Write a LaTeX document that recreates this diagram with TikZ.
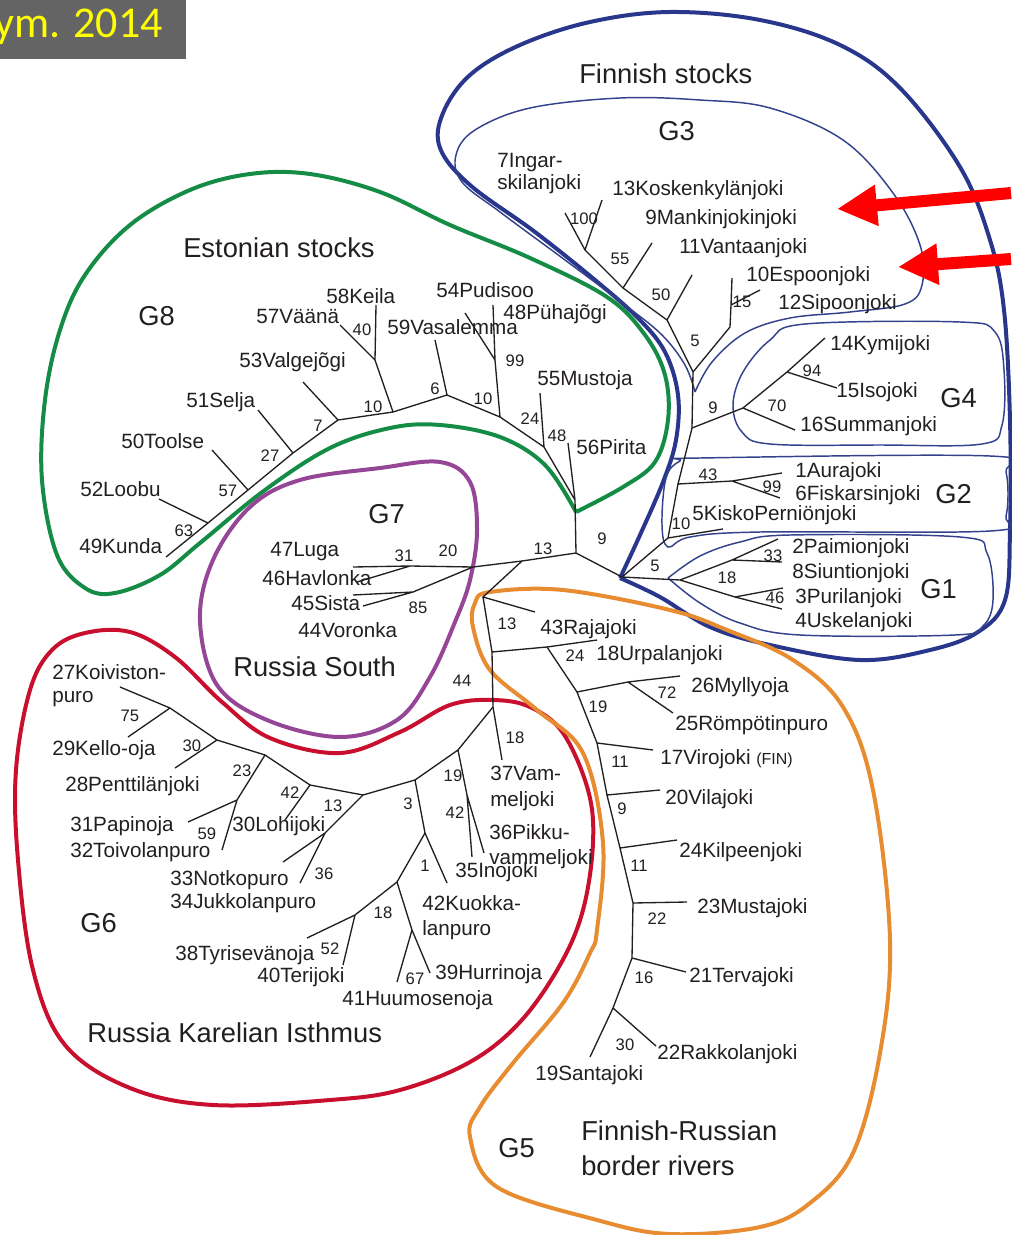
\documentclass[tikz,border=0pt]{standalone}
\usepackage{fontspec}
\setmainfont{Liberation Sans}
\newfontfamily\slidefont{Carlito}
\usetikzlibrary{arrows.meta}

\begin{document}
\begin{tikzpicture}[x=0.75pt,y=0.75pt,yscale=-1,xscale=1,
  branch/.style={color={rgb, 255:red, 35; green, 31; blue, 32}, line width=1},
  leaf/.style={anchor=base west, inner sep=0pt, text={rgb, 255:red, 35; green, 31; blue, 32}, font=\fontsize{15.5}{18}\selectfont},
  boot/.style={anchor=base, inner sep=0pt, text={rgb, 255:red, 35; green, 31; blue, 32}, font=\fontsize{12.5}{14}\selectfont},
  grp/.style={anchor=base west, inner sep=0pt, text={rgb, 255:red, 35; green, 31; blue, 32}, font=\fontsize{20.5}{24}\selectfont},
  rim/.style={line width=3},
  thinrim/.style={line width=1.1, color={rgb, 255:red, 52; green, 66; blue, 140}},
  pointer/.style={line width=9, color={rgb, 255:red, 255; green, 0; blue, 0}, -{Triangle[length=30pt, width=29pt]}}
]
\useasboundingbox (0,0) rectangle (1011,1235);

%Shape: Title box
\fill [color={rgb, 255:red, 100; green, 100; blue, 100}] (0,0) rectangle (186,59);
\node (yr) [anchor=base west, inner sep=0pt, text={rgb, 255:red, 255; green, 255; blue, 0}, font=\slidefont\fontsize{33}{36}\selectfont] at (-6,37) {ym. 2014};

%Shape: Group outlines
\draw [rim, color={rgb, 255:red, 20; green, 140; blue, 70}] plot [smooth, tension=0.6] coordinates {(576,512) (623,487) (655,462) (668,420) (665,375) (645,335) (607,297) (530,258) (450,225) (380,192) (310,174) (250,174) (190,190) (130,225) (85,275) (60,330) (45,400) (42,480) (57,555) (85,588) (115,593) (160,575) (200,543) (265,490) (330,448) (390,428) (440,425) (500,437) (545,465) (576,512)};
\draw [rim, color={rgb, 255:red, 40; green, 55; blue, 140}] plot [smooth, tension=0.6] coordinates {(620,578) (660,597) (710,627) (770,645) (860,660) (930,650) (978,632) (1005,600) (1010,530) (1010,420) (1004,310) (990,240) (960,167) (900,88) (840,45) (760,20) (670,12) (590,22) (520,45) (470,75) (443,113) (440,148) (470,185) (535,232) (595,280) (638,318) (665,352) (678,395) (676,440) (663,482) (640,535) (620,578)};
\draw [thinrim] plot [smooth, tension=0.6] coordinates {(695,392) (685,365) (662,335) (625,305) (565,260) (500,212) (462,182) (456,155) (475,130) (530,108) (620,98) (700,100) (770,108) (843,140) (893,193) (920,245) (922,285) (905,304) (850,312) (790,318) (745,333) (712,362) (695,392)};
\draw [thinrim] plot [smooth cycle, tension=0.6] coordinates {(770,444) (742,432) (733,405) (743,372) (770,340) (805,324) (960,322) (995,332) (1004,370) (1002,425) (982,444) (880,445)};
\draw [thinrim] plot [smooth cycle, tension=0.6] coordinates {(700,458) (990,456) (1006,472) (1006,516) (990,531) (760,532) (690,537) (668,547) (662,525) (666,478) (680,461)};
\draw [thinrim] plot [smooth, tension=0.6] coordinates {(668,578) (700,556) (740,542) (790,535) (960,537) (987,553) (993,600) (983,626) (955,635) (800,635) (740,623) (700,603) (668,578)};
\draw [rim, color={rgb, 255:red, 150; green, 70; blue, 150}] plot [smooth cycle, tension=0.6] coordinates {(300,480) (380,468) (440,462) (470,482) (477,530) (470,580) (455,622) (430,677) (397,720) (340,737) (267,720) (217,685) (200,620) (213,560) (250,507)};
\draw [rim, color={rgb, 255:red, 200; green, 16; blue, 46}] plot [smooth cycle, tension=0.6] coordinates {(493,700) (530,707) (563,733) (588,790) (593,843) (583,910) (560,965) (520,1022) (470,1062) (400,1090) (330,1100) (213,1105) (130,1088) (65,1045) (33,970) (18,860) (16,770) (30,690) (52,650) (85,633) (130,632) (175,657) (222,702) (270,738) (340,753) (400,732) (450,705)};
\draw [rim, color={rgb, 255:red, 232; green, 140; blue, 50}] plot [smooth cycle, tension=0.6] coordinates {(490,592) (563,590) (670,610) (727,630) (793,660) (843,707) (873,790) (890,940) (880,1053) (853,1153) (810,1203) (760,1227) (670,1234) (597,1220) (497,1187) (470,1137) (480,1107) (513,1063) (563,1003) (590,953) (597,930) (603,843) (583,753) (537,710) (490,670) (473,627) (475,603)};

%Tree: forks and tips
\coordinate (C1) at (576,553);
\coordinate (E0) at (575,500); \coordinate (T56) at (568,443);
\coordinate (E1) at (544,447); \coordinate (T55) at (540,393);
\coordinate (E2) at (500,417); \coordinate (E2a) at (495,360);
\coordinate (T48) at (493,305); \coordinate (T54) at (465,313);
\coordinate (E3) at (447,395); \coordinate (T59) at (435,340);
\coordinate (E4) at (393,412); \coordinate (E5) at (375,360);
\coordinate (T58) at (376,305); \coordinate (T57) at (340,325);
\coordinate (E6) at (338,420); \coordinate (T53) at (303,382);
\coordinate (E7) at (293,453); \coordinate (T51) at (258,410);
\coordinate (E8) at (248,490); \coordinate (T50) at (212,450);
\coordinate (E9) at (208,523); \coordinate (T52) at (159,499);
\coordinate (T49) at (166,557);
\coordinate (F0) at (622,577); \coordinate (G1a) at (680,580);
\coordinate (G1b) at (732,560); \coordinate (T2) at (778,539); \coordinate (T8) at (782,562);
\coordinate (G1c) at (735,597); \coordinate (T3) at (783,588); \coordinate (T4) at (782,609);
\coordinate (FT1) at (668,538); \coordinate (T5) at (723,529);
\coordinate (FT2) at (678,484); \coordinate (G2a) at (732,481);
\coordinate (T1) at (782,473); \coordinate (T6) at (780,498);
\coordinate (FT3) at (692,428); \coordinate (G4a) at (743,408); \coordinate (G4b) at (787,372);
\coordinate (T14) at (825,338); \coordinate (T15) at (837,388); \coordinate (T16) at (795,430);
\coordinate (FT4) at (693,372); \coordinate (G3a) at (730,327); \coordinate (G3b) at (731,305);
\coordinate (T10) at (732,278); \coordinate (T12) at (760,290);
\coordinate (G3c) at (667,320); \coordinate (T11) at (692,275);
\coordinate (G3d) at (623,288); \coordinate (T9) at (652,243);
\coordinate (G3e) at (585,250); \coordinate (T13) at (602,200); \coordinate (T7) at (565,213);
\coordinate (R0) at (522,561); \coordinate (H) at (473,567);
\coordinate (H1) at (410,566); \coordinate (T47) at (353,567); \coordinate (T46) at (357,582);
\coordinate (H2) at (413,592); \coordinate (T45) at (363,606); \coordinate (T44) at (353,595);
\coordinate (R1) at (483,597); \coordinate (T43) at (535,612);
\coordinate (R3) at (492,652); \coordinate (G5a) at (547,647); \coordinate (T18) at (597,640);
\coordinate (R2) at (493,707); \coordinate (T37) at (502,760);
\coordinate (F1) at (577,692); \coordinate (F1b) at (628,682);
\coordinate (T26) at (680,676); \coordinate (T25) at (673,713);
\coordinate (F2) at (597,743); \coordinate (T17) at (653,750);
\coordinate (F3) at (607,795); \coordinate (T20) at (660,790);
\coordinate (F4) at (620,848); \coordinate (T24) at (677,840);
\coordinate (F5) at (633,903); \coordinate (T23) at (687,902);
\coordinate (F6) at (632,958); \coordinate (T21) at (686,972);
\coordinate (F7) at (613,1008); \coordinate (T19) at (590,1057); \coordinate (T22) at (656,1046);
\coordinate (K1) at (458,750); \coordinate (K2) at (467,795);
\coordinate (T35) at (472,857); \coordinate (T36) at (484,853);
\coordinate (K3) at (415,780); \coordinate (K4) at (425,833); \coordinate (T42) at (447,883);
\coordinate (K5) at (397,882); \coordinate (K6) at (412,930);
\coordinate (T41) at (397,982); \coordinate (T39) at (430,973);
\coordinate (K7) at (355,915); \coordinate (T38) at (307,938); \coordinate (T40) at (343,965);
\coordinate (K8) at (363,795); \coordinate (K9) at (325,833);
\coordinate (T33) at (283,862); \coordinate (T34) at (300,883);
\coordinate (K10) at (310,785); \coordinate (T30) at (285,820);
\coordinate (K11) at (265,755); \coordinate (K12) at (237,800);
\coordinate (T31) at (188,822); \coordinate (T32) at (222,850);
\coordinate (K13) at (217,740); \coordinate (T28) at (175,768);
\coordinate (K14) at (170,708); \coordinate (T27) at (120,687); \coordinate (T29) at (128,737);

%Straight Lines: Estonian
\draw [branch] (C1) -- (E0) -- (T56) (E0) -- (E1) -- (T55) (E1) -- (E2) -- (E2a) -- (T48) (E2a) -- (T54);
\draw [branch] (E2) -- (E3) -- (T59) (E3) -- (E4) -- (E5) -- (T58) (E5) -- (T57);
\draw [branch] (E4) -- (E6) -- (T53) (E6) -- (E7) -- (T51) (E7) -- (E8) -- (T50) (E8) -- (E9) -- (T52) (E9) -- (T49);
%Straight Lines: Finnish
\draw [branch] (C1) -- (F0) -- (G1a) -- (G1b) -- (T2) (G1b) -- (T8) (G1a) -- (G1c) -- (T3) (G1c) -- (T4);
\draw [branch] (F0) -- (FT1) -- (T5) (FT1) -- (FT2) -- (G2a) -- (T1) (G2a) -- (T6);
\draw [branch] (FT2) -- (FT3) -- (G4a) -- (G4b) -- (T14) (G4b) -- (T15) (G4a) -- (T16);
\draw [branch] (FT3) -- (FT4) -- (G3a) -- (G3b) -- (T10) (G3b) -- (T12);
\draw [branch] (FT4) -- (G3c) -- (T11) (G3c) -- (G3d) -- (T9) (G3d) -- (G3e) -- (T13) (G3e) -- (T7);
%Straight Lines: Russia South
\draw [branch] (C1) -- (R0) -- (H) -- (H1) -- (T47) (H1) -- (T46) (H) -- (H2) -- (T45) (H2) -- (T44);
%Straight Lines: border rivers
\draw [branch] (R0) -- (R1) -- (T43) (R1) -- (R3) -- (G5a) -- (T18) (R3) -- (R2) -- (T37);
\draw [branch] (G5a) -- (F1) -- (F1b) -- (T26) (F1b) -- (T25) (F1) -- (F2) -- (T17) (F2) -- (F3) -- (T20);
\draw [branch] (F3) -- (F4) -- (T24) (F4) -- (F5) -- (T23) (F5) -- (F6) -- (T21) (F6) -- (F7) -- (T19) (F7) -- (T22);
%Straight Lines: Karelian Isthmus
\draw [branch] (R2) -- (K1) -- (K2) -- (T35) (K2) -- (T36) (K1) -- (K3) -- (K4) -- (T42) (K4) -- (K5) -- (K6) -- (T41) (K6) -- (T39);
\draw [branch] (K5) -- (K7) -- (T38) (K7) -- (T40) (K3) -- (K8) -- (K9) -- (T33) (K9) -- (T34);
\draw [branch] (K8) -- (K10) -- (T30) (K10) -- (K11) -- (K12) -- (T31) (K12) -- (T32) (K11) -- (K13) -- (T28) (K13) -- (K14) -- (T27) (K14) -- (T29);

%Straight Lines: pointers
\coordinate (P1s) at (1011,193); \coordinate (P1e) at (837,209);
\coordinate (P2s) at (1011,259); \coordinate (P2e) at (898,267);
\draw [pointer] (P1s) -- (P1e);
\draw [pointer] (P2s) -- (P2e);

%Group names
\node (estst) [grp] at (183,257) {Estonian stocks};
\node (g8) [grp] at (138,325) {G8};
\node (finst) [grp] at (579,83) {Finnish stocks};
\node (g3) [grp] at (658,140) {G3};
\node (g4) [grp] at (940,407) {G4};
\node (g2) [grp] at (935,503) {G2};
\node (g1) [grp] at (920,598) {G1};
\node (g7) [grp] at (368,523) {G7};
\node (russ) [grp] at (233,676) {Russia South};
\node (g6) [grp] at (80,932) {G6};
\node (rki) [grp] at (87,1042) {Russia Karelian Isthmus};
\node (g5) [grp] at (498,1157) {G5};
\node (frra) [grp] at (581,1140) {Finnish-Russian};
\node (frrb) [grp] at (581,1175) {border rivers};

%Rivers
\node (n58) [leaf] at (326,303) {58Keila};
\node (n57) [leaf] at (256,323) {57Väänä};
\node (n53) [leaf] at (239,367) {53Valgejõgi};
\node (n59) [leaf] at (387,334) {59Vasalemma};
\node (n54) [leaf] at (436,297) {54Pudisoo};
\node (n48) [leaf] at (503,319) {48Pühajõgi};
\node (n55) [leaf] at (537,385) {55Mustoja};
\node (n56) [leaf] at (576,454) {56Pirita};
\node (n51) [leaf] at (186,407) {51Selja};
\node (n50) [leaf] at (121,448) {50Toolse};
\node (n52) [leaf] at (80,496) {52Loobu};
\node (n49) [leaf] at (79,553) {49Kunda};
\node (n7a) [leaf] at (497,167) {7Ingar-};
\node (n7b) [leaf] at (497,189) {skilanjoki};
\node (n13) [leaf] at (612,195) {13Koskenkylänjoki};
\node (n9) [leaf] at (645,224) {9Mankinjokinjoki};
\node (n11) [leaf] at (679,253) {11Vantaanjoki};
\node (n10) [leaf] at (746,281) {10Espoonjoki};
\node (n12) [leaf] at (778,309) {12Sipoonjoki};
\node (n14) [leaf] at (830,350) {14Kymijoki};
\node (n15) [leaf] at (836,397) {15Isojoki};
\node (n16) [leaf] at (800,431) {16Summanjoki};
\node (n1) [leaf] at (795,477) {1Aurajoki};
\node (n6) [leaf] at (795,500) {6Fiskarsinjoki};
\node (n5) [leaf] at (692,520) {5KiskoPerniönjoki};
\node (n2) [leaf] at (792,553) {2Paimionjoki};
\node (n8) [leaf] at (792,578) {8Siuntionjoki};
\node (n3) [leaf] at (795,603) {3Purilanjoki};
\node (n4) [leaf] at (795,627) {4Uskelanjoki};
\node (n47) [leaf] at (270,556) {47Luga};
\node (n46) [leaf] at (262,585) {46Havlonka};
\node (n45) [leaf] at (291,610) {45Sista};
\node (n44) [leaf] at (298,637) {44Voronka};
\node (n43) [leaf] at (540,634) {43Rajajoki};
\node (n18) [leaf] at (596,660) {18Urpalanjoki};
\node (n26) [leaf] at (691,692) {26Myllyoja};
\node (n25) [leaf] at (675,730) {25Römpötinpuro};
\node (n17) [leaf] at (660,764) {17Virojoki {\fontsize{12}{12}\selectfont(FIN)}};
\node (n20) [leaf] at (665,804) {20Vilajoki};
\node (n24) [leaf] at (679,857) {24Kilpeenjoki};
\node (n23) [leaf] at (697,913) {23Mustajoki};
\node (n21) [leaf] at (689,982) {21Tervajoki};
\node (n22) [leaf] at (657,1059) {22Rakkolanjoki};
\node (n19) [leaf] at (535,1080) {19Santajoki};
\node (n27a) [leaf] at (52,679) {27Koiviston-};
\node (n27b) [leaf] at (52,702) {puro};
\node (n29) [leaf] at (52,755) {29Kello-oja};
\node (n28) [leaf] at (65,791) {28Penttilänjoki};
\node (n31) [leaf] at (70,831) {31Papinoja};
\node (n32) [leaf] at (70,857) {32Toivolanpuro};
\node (n30) [leaf] at (232,831) {30Lohijoki};
\node (n33) [leaf] at (170,885) {33Notkopuro};
\node (n34) [leaf] at (170,908) {34Jukkolanpuro};
\node (n38) [leaf] at (175,960) {38Tyrisevänoja};
\node (n40) [leaf] at (257,982) {40Terijoki};
\node (n41) [leaf] at (342,1005) {41Huumosenoja};
\node (n39) [leaf] at (435,979) {39Hurrinoja};
\node (n42a) [leaf] at (422,910) {42Kuokka-};
\node (n42b) [leaf] at (422,935) {lanpuro};
\node (n35) [leaf] at (455,877) {35Inojoki};
\node (n36a) [leaf] at (489,839) {36Pikku-};
\node (n36b) [leaf] at (489,864) {vammeljoki};
\node (n37a) [leaf] at (490,780) {37Vam-};
\node (n37b) [leaf] at (490,806) {meljoki};

%Bootstrap values
\node (b40) [boot] at (362,335) {40};
\node (b10e) [boot] at (373,412) {10};
\node (b6) [boot] at (435,394) {6};
\node (b10f) [boot] at (483,404) {10};
\node (b99e) [boot] at (515,366) {99};
\node (b24e) [boot] at (530,424) {24};
\node (b48) [boot] at (557,441) {48};
\node (b7) [boot] at (318,431) {7};
\node (b27) [boot] at (270,461) {27};
\node (b57) [boot] at (228,496) {57};
\node (b63) [boot] at (184,536) {63};
\node (b100) [boot] at (584,224) {100};
\node (b55) [boot] at (620,264) {55};
\node (b50) [boot] at (661,300) {50};
\node (b15) [boot] at (742,307) {15};
\node (b5a) [boot] at (695,346) {5};
\node (b9a) [boot] at (713,413) {9};
\node (b94) [boot] at (812,376) {94};
\node (b70) [boot] at (777,411) {70};
\node (b43) [boot] at (708,480) {43};
\node (b99f) [boot] at (772,492) {99};
\node (b10g) [boot] at (681,529) {10};
\node (b33) [boot] at (773,561) {33};
\node (b18a) [boot] at (727,583) {18};
\node (b46) [boot] at (775,603) {46};
\node (b5b) [boot] at (655,571) {5};
\node (b9b) [boot] at (602,544) {9};
\node (b13a) [boot] at (543,554) {13};
\node (b20) [boot] at (448,556) {20};
\node (b31) [boot] at (404,561) {31};
\node (b85) [boot] at (418,613) {85};
\node (b13b) [boot] at (507,629) {13};
\node (b24f) [boot] at (575,661) {24};
\node (b44) [boot] at (462,686) {44};
\node (b18b) [boot] at (515,743) {18};
\node (b72) [boot] at (667,698) {72};
\node (b19a) [boot] at (598,712) {19};
\node (b11a) [boot] at (620,767) {11};
\node (b9c) [boot] at (622,814) {9};
\node (b11b) [boot] at (639,871) {11};
\node (b22) [boot] at (657,924) {22};
\node (b16) [boot] at (644,983) {16};
\node (b30a) [boot] at (625,1050) {30};
\node (b19b) [boot] at (453,781) {19};
\node (b42a) [boot] at (455,818) {42};
\node (b3) [boot] at (408,809) {3};
\node (b1) [boot] at (425,871) {1};
\node (b18c) [boot] at (383,918) {18};
\node (b52) [boot] at (330,954) {52};
\node (b67) [boot] at (415,984) {67};
\node (b13c) [boot] at (333,811) {13};
\node (b36) [boot] at (324,879) {36};
\node (b42b) [boot] at (290,798) {42};
\node (b23) [boot] at (242,776) {23};
\node (b59) [boot] at (207,839) {59};
\node (b30b) [boot] at (192,751) {30};
\node (b75) [boot] at (130,721) {75};

\end{tikzpicture}
\end{document}
